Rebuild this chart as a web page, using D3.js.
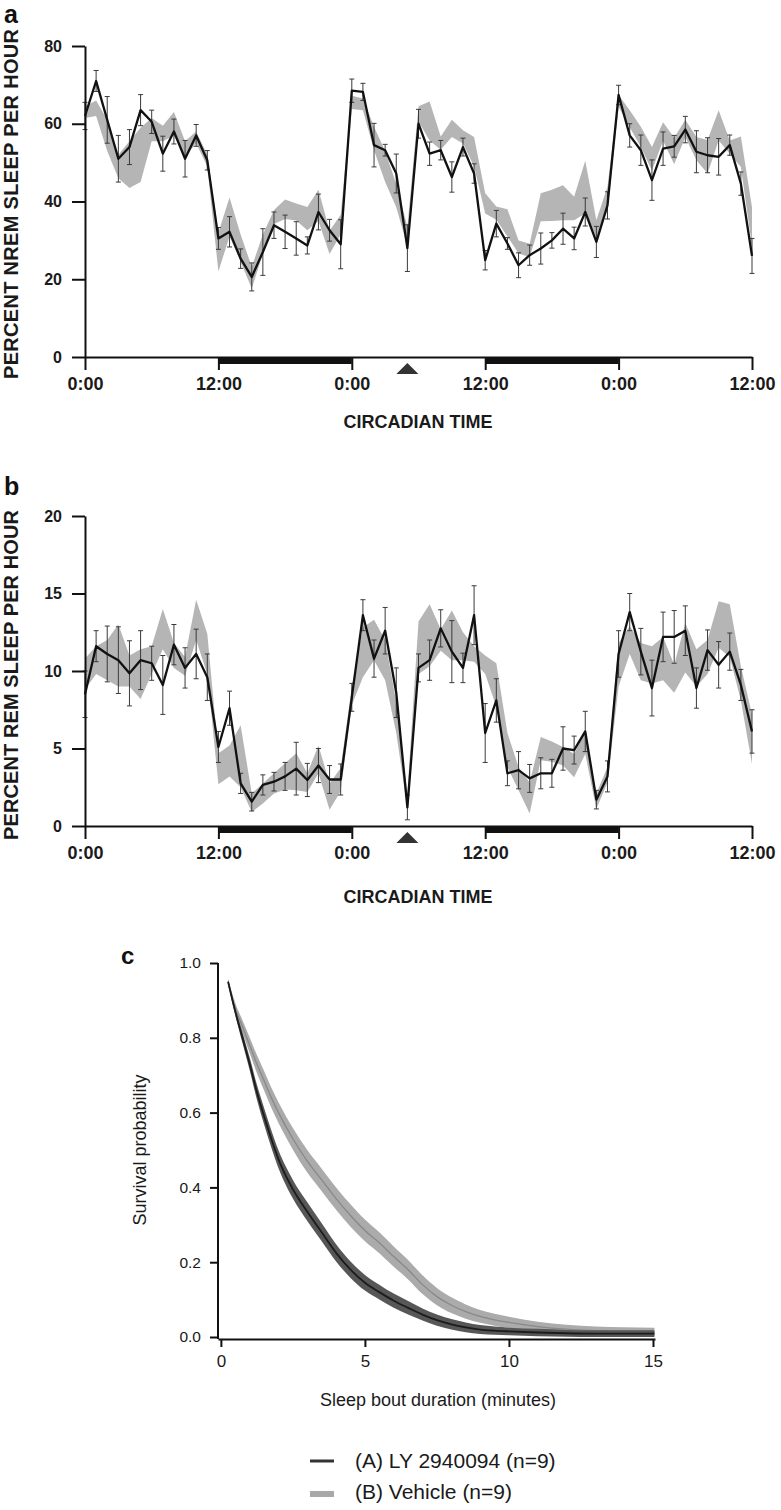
<!DOCTYPE html>
<html><head><meta charset="utf-8">
<script src="https://cdn.jsdelivr.net/npm/d3@7/dist/d3.min.js"></script>
<style>
body{margin:0;background:#fff}
svg{display:block}
text{font-family:"Liberation Sans",Arial,Helvetica,sans-serif}
</style>
</head><body>
<svg id="chart" width="781" height="1510"></svg>
<script>
// ---------- shared circadian axis ----------
const hours = [0,1,2,3,4,5,6,7,8,9,10,11,12,13,14,15,16,17,18,19,20,21,22,23,24,25,26,27,28,29,30,
  31,32,33,34,35,36,37,38,39,40,41,42,43,44,45,46,47,48,49,50,51,52,53,54,55,56,57,58,59,60];
const timeTicks = [0,12,24,36,48,60];
const timeTickLabels = ["0:00","12:00","0:00","12:00","0:00","12:00"];
const darkPeriods = [[12,24],[36,48]];
const injectionHour = 29;

// ---------- panel a: NREM ----------
const nremTicks = [0,20,40,60,80];
const nremLY = [62,71,61,51,54,63.5,60.5,52.3,58,51,57,50.6,30.5,32.2,25.3,20.6,27,33.9,32.2,30.5,
  28.7,37.3,32.6,29,68.5,68.2,54.5,53.2,47.2,28,60,52.3,53.2,46.3,54,47.2,24.9,34.3,29.2,23.6,
  26.2,27.9,30,33,30.5,37.3,29.6,39,67.4,57,53.2,45.5,53.6,54.2,58.5,52.8,51.9,51.5,54.5,44.6,26];
const nremLYErr = [3.5,2.7,6,6,4.5,4,3,4.5,3.2,4.7,2.8,2.5,2.8,3.9,2.5,3.6,6,3.4,4.3,4.3,
  2.2,4.6,2.8,6.3,3,2.2,5.6,1.5,5,6,3.7,3,2.5,3.9,2.3,2.5,2.5,3.4,1.5,3.2,
  2.6,4,2,4,2.9,3.6,4,3.5,2.5,3,3.9,5.2,4.3,2.8,3.4,5.4,4.5,4.7,2.6,3,4.5];
const nremVeh = [63,64,57,49,49.5,52,58.5,57.5,60,53.5,56.5,50.5,27,36,28,20.4,29,36,38,37.3,
  35.6,39,29.5,34,65.5,65,56.2,49,41.5,31,62.5,60.7,55,58.8,56.6,52.8,39.5,37,34.5,28.3,
  27.4,38.5,39,39.7,38.2,43.7,33,40.8,65.9,61.3,56.6,51,58,53,58.8,53.6,51.5,59.6,54,52.8,33.5];
const nremVehSem = [1.5,2,4,3,6,7,3,2,3,2,1.5,1.5,5,5,3.5,2.8,2.5,1.8,2.5,2.2,
  3,4,3,2.5,1.7,1.5,3,4,3,2.5,2,5,1.7,2.2,1.7,3.8,2.6,1.7,3.5,1.7,
  1.7,3.6,4,4.5,3,6.8,2.2,3,1.5,2.2,2.6,3,2.4,3.4,2.2,3,4.3,3.9,1.7,3.9,5];

// ---------- panel b: REM ----------
const remTicks = [0,5,10,15,20];
const remLY = [8.5,11.6,11.1,10.7,9.85,10.7,10.5,9.1,11.7,10.2,11.1,9.6,5.1,7.6,2.75,1.57,2.65,2.86,3.2,3.7,
  2.97,3.9,3,3,8.3,13.6,10.8,12.6,8.6,1.2,10.2,10.7,12.75,11.25,10.2,13.6,6,8.1,3.4,3.6,
  3.07,3.4,3.4,5,4.9,6.1,1.7,3.2,11.1,13.8,11.25,8.9,12.2,12.2,12.6,8.9,11.35,10.4,11.25,9.1,6.1];
const remLYErr = [1.5,1,1.8,2.15,2.1,1.9,1.1,1.9,1.3,1.3,1.6,1.5,1,1.1,0.65,0.6,0.65,0.6,0.9,1.7,
  1.07,1.1,0.9,1,0.9,1,1.2,1.5,1.6,0.8,0.9,1.3,1.2,2,0.95,1.9,1.9,1.4,0.8,1.2,
  0.9,1,0.9,1.4,0.9,1.3,0.6,1,1.5,1.2,1.5,1.8,1.6,1.7,1.6,1.3,1.3,1.5,1.2,1,1.4];
const remVeh = [9.8,10.7,10.7,11,10,9.8,10.7,12.7,11,10.3,13.3,11.1,3.7,4.2,4.5,1.5,2.1,2.75,3.2,3.5,
  2.8,4.3,1.9,3,8.4,11.2,12,10.7,7,1.6,11.5,12.3,12,12.3,11.6,11.1,10.4,9.1,4.9,3.05,
  1.8,5,4.8,4.5,3.9,5.4,1.6,3.3,10.4,12,10.6,10.4,10.8,9.5,11.5,10.2,10.9,13,12.6,9.2,5.6];
const remVehSem = [1,0.9,1.3,2,1,1.6,0.9,1.3,0.8,0.6,1.3,1.3,1,1,2,0.6,0.65,0.65,0.85,1.2,
  0.6,0.9,0.85,0.75,0.6,1.6,1.3,1.3,1,0.5,1.7,2,0.7,1.6,0.9,0.5,0.6,1.4,1.1,0.75,
  1,0.75,0.65,0.6,0.75,0.75,0.5,0.5,1.4,0.9,1.2,1.2,1.4,0.9,1.6,1.2,1.1,1.5,1.7,1.1,1.6];

// ---------- panel c: survival ----------
const boutMinutes = [0.25,0.5,0.75,1,1.25,1.5,1.75,2,2.5,3,3.5,4,4.5,5,5.5,6,6.5,7,7.5,8,8.5,9,9.5,10,11,12,13,14,15.05];
const survLY = [0.95,0.87,0.8,0.73,0.655,0.59,0.53,0.475,0.395,0.335,0.28,0.225,0.18,0.145,0.12,0.097,0.078,0.06,0.045,0.034,0.026,0.02,0.017,0.015,0.012,0.01,0.009,0.009,0.009];
const survLYBand = [0.006,0.01,0.014,0.017,0.02,0.022,0.023,0.024,0.025,0.025,0.024,0.023,0.022,0.021,0.02,0.019,0.018,0.016,0.015,0.014,0.013,0.012,0.011,0.01,0.01,0.009,0.009,0.009,0.009];
const survVeh = [0.95,0.88,0.83,0.78,0.73,0.685,0.64,0.6,0.53,0.47,0.42,0.37,0.325,0.285,0.252,0.215,0.18,0.14,0.108,0.085,0.068,0.055,0.046,0.039,0.028,0.021,0.017,0.015,0.014];
const survVehBand = [0.008,0.013,0.017,0.021,0.024,0.026,0.027,0.028,0.029,0.03,0.03,0.03,0.03,0.029,0.028,0.027,0.026,0.025,0.023,0.021,0.019,0.017,0.016,0.015,0.013,0.012,0.011,0.011,0.011];
const survYTicks = [0,0.2,0.4,0.6,0.8,1.0];
const survXTicks = [0,5,10,15];
const legendLabels = ["(A) LY 2940094 (n=9)","(B) Vehicle (n=9)"];

// =====================================================
const svg = d3.select("#chart");
svg.append("rect").attr("width",781).attr("height",1510).attr("fill","#fff");

const xT = d3.scaleLinear().domain([0,60]).range([85,752]);

function circadianPanel(opt){
  const g = svg.append("g");
  const y = d3.scaleLinear().domain(opt.domain).range([opt.y0, opt.y1]);
  const base = opt.y0;

  const band = d3.area()
    .x((d,i)=>xT(hours[i]))
    .y0((d,i)=>y(opt.veh[i]-opt.vehSem[i]))
    .y1((d,i)=>y(opt.veh[i]+opt.vehSem[i]));
  g.append("path").datum(opt.veh).attr("d",band).attr("fill","#b5b5b5");

  const eb = g.append("g").attr("stroke","#3a3a3a").attr("stroke-width",1);
  hours.forEach((h,i)=>{
    const xx = xT(h), ya = y(opt.ly[i]+opt.err[i]), yb = y(opt.ly[i]-opt.err[i]);
    eb.append("line").attr("x1",xx).attr("x2",xx).attr("y1",ya).attr("y2",yb);
    eb.append("line").attr("x1",xx-2.5).attr("x2",xx+2.5).attr("y1",ya).attr("y2",ya);
    eb.append("line").attr("x1",xx-2.5).attr("x2",xx+2.5).attr("y1",yb).attr("y2",yb);
  });

  const line = d3.line().x((d,i)=>xT(hours[i])).y(d=>y(d));
  g.append("path").datum(opt.ly).attr("d",line).attr("fill","none")
    .attr("stroke","#111").attr("stroke-width",2.3).attr("stroke-linejoin","round");

  const ya = g.append("g").attr("transform",`translate(${xT(0)},0)`)
    .call(d3.axisLeft(y).tickValues(opt.ticks).tickSize(13).tickSizeOuter(0).tickPadding(10).tickFormat(d3.format("d")));
  ya.select(".domain").attr("stroke","#111").attr("stroke-width",2);
  ya.selectAll(".tick line").attr("stroke","#111").attr("stroke-width",2);
  ya.selectAll(".tick text").attr("font-size",16).attr("font-weight","bold").attr("fill","#1a1a1a")
    .attr("font-family","Liberation Sans, Arial, sans-serif");

  const xa = g.append("g").attr("transform",`translate(0,${base})`)
    .call(d3.axisBottom(xT).tickValues(timeTicks).tickSize(13).tickSizeOuter(0).tickPadding(7)
      .tickFormat((d,i)=>timeTickLabels[i]));
  xa.select(".domain").attr("stroke","#111").attr("stroke-width",2);
  xa.selectAll(".tick line").attr("stroke","#111").attr("stroke-width",2);
  xa.selectAll(".tick text").attr("font-size",18).attr("font-weight","bold").attr("fill","#1a1a1a")
    .attr("font-family","Liberation Sans, Arial, sans-serif");

  darkPeriods.forEach(p=>{
    g.append("rect").attr("x",xT(p[0])).attr("y",base).attr("width",xT(p[1])-xT(p[0]))
      .attr("height",7).attr("fill","#111");
  });
  const tx = xT(injectionHour);
  g.append("path").attr("d",`M${tx},${base+6}L${tx+11},${base+17}L${tx-11},${base+17}Z`).attr("fill","#333");

  g.append("text").attr("x",418).attr("y",opt.xTitleY).attr("text-anchor","middle")
    .attr("font-size",18).attr("font-weight","bold").attr("fill","#1a1a1a").text("CIRCADIAN TIME");
  g.append("text").attr("transform",`translate(18,${opt.yTitleC}) rotate(-90)`).attr("text-anchor","middle")
    .attr("font-size",20).attr("font-weight","bold").attr("fill","#1a1a1a")
    .attr("textLength",opt.yTitleLen).attr("lengthAdjust","spacing").text(opt.yTitle);
  g.append("text").attr("x",opt.labelX).attr("y",opt.labelY).attr("font-size",25).attr("font-weight","bold")
    .attr("fill","#111").text(opt.label);
}

circadianPanel({domain:[0,80], y0:357, y1:46, ticks:nremTicks, ly:nremLY, err:nremLYErr,
  veh:nremVeh, vehSem:nremVehSem, xTitleY:428, yTitleC:204, yTitleLen:350,
  yTitle:"PERCENT NREM SLEEP PER HOUR", label:"a", labelX:4, labelY:23});
circadianPanel({domain:[0,20], y0:826, y1:516, ticks:remTicks, ly:remLY, err:remLYErr,
  veh:remVeh, vehSem:remVehSem, xTitleY:903, yTitleC:675, yTitleLen:330,
  yTitle:"PERCENT REM SLEEP PER HOUR", label:"b", labelX:4, labelY:495});

// ---------- panel c ----------
const gc = svg.append("g");
const xS = d3.scaleLinear().domain([-0.1,15.07]).range([218,655]);
const yS = d3.scaleLinear().domain([0,1]).range([1337,963]);

const areaGen = (m,b)=>d3.area().curve(d3.curveMonotoneX)
  .x((d,i)=>xS(boutMinutes[i])).y0((d,i)=>yS(m[i]-b[i])).y1((d,i)=>yS(m[i]+b[i]));
const lineGen = d3.line().curve(d3.curveMonotoneX).x((d,i)=>xS(boutMinutes[i])).y(d=>yS(d));

gc.append("path").datum(survVeh).attr("d",areaGen(survVeh,survVehBand)).attr("fill","#ababab");
gc.append("path").datum(survVeh).attr("d",lineGen).attr("fill","none").attr("stroke","#888").attr("stroke-width",1.3);
gc.append("path").datum(survLY).attr("d",areaGen(survLY,survLYBand)).attr("fill","#575757");
gc.append("path").datum(survLY).attr("d",lineGen).attr("fill","none").attr("stroke","#1c1c1c").attr("stroke-width",1.8);

const yca = gc.append("g").attr("transform",`translate(${xS(-0.1)},0)`)
  .call(d3.axisLeft(yS).tickValues(survYTicks).tickSize(8).tickSizeOuter(0).tickPadding(9).tickFormat(d3.format(".1f")));
yca.select(".domain").attr("stroke","#111").attr("stroke-width",2).attr("d",`M0,${yS(1)}V${yS(0)+2}`);
yca.selectAll(".tick line").attr("stroke","#111").attr("stroke-width",2);
yca.selectAll(".tick text").attr("font-size",15.5).attr("fill","#1a1a1a").attr("font-family","Liberation Sans, Arial, sans-serif");

const xca = gc.append("g").attr("transform",`translate(0,${yS(0)+2})`)
  .call(d3.axisBottom(xS).tickValues(survXTicks).tickSize(8).tickSizeOuter(0).tickPadding(8));
xca.select(".domain").attr("stroke","#111").attr("stroke-width",2);
xca.selectAll(".tick line").attr("stroke","#111").attr("stroke-width",2);
xca.selectAll(".tick text").attr("font-size",17).attr("fill","#1a1a1a").attr("font-family","Liberation Sans, Arial, sans-serif");

gc.append("text").attr("x",438).attr("y",1406).attr("text-anchor","middle").attr("font-size",18)
  .attr("fill","#1a1a1a").text("Sleep bout duration (minutes)");
gc.append("text").attr("transform","translate(146,1150) rotate(-90)").attr("text-anchor","middle")
  .attr("font-size",18).attr("fill","#1a1a1a").text("Survival probability");
gc.append("text").attr("x",121).attr("y",964).attr("font-size",24).attr("font-weight","bold").attr("fill","#111").text("c");

const lg = gc.append("g");
lg.append("line").attr("x1",310).attr("x2",334).attr("y1",1461).attr("y2",1461).attr("stroke","#333").attr("stroke-width",3);
lg.append("line").attr("x1",310).attr("x2",334).attr("y1",1494).attr("y2",1494).attr("stroke","#a8a8a8").attr("stroke-width",6);
lg.append("text").attr("x",355).attr("y",1468).attr("font-size",21).attr("fill","#1a1a1a").text(legendLabels[0]);
lg.append("text").attr("x",355).attr("y",1499).attr("font-size",21).attr("fill","#1a1a1a").text(legendLabels[1]);
</script>
</body></html>
